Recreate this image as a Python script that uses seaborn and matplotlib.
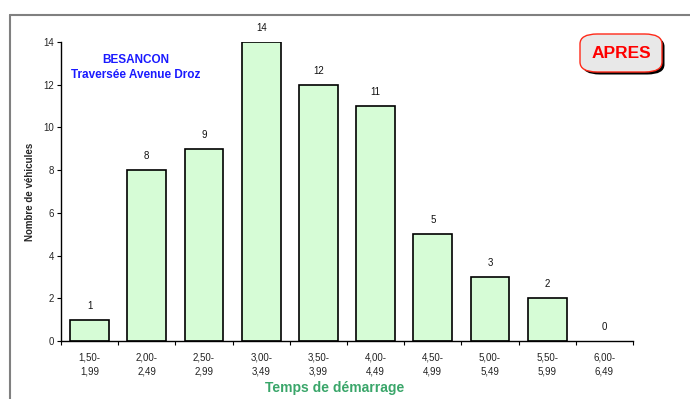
import matplotlib
matplotlib.use("Agg")
import matplotlib.pyplot as plt
from matplotlib.patches import FancyBboxPatch
from matplotlib.lines import Line2D
import seaborn as sns
import pandas as pd

categories = ["1,50-\n1,99", "2,00-\n2,49", "2,50-\n2,99", "3,00-\n3,49", "3,50-\n3,99",
              "4,00-\n4,49", "4,50-\n4,99", "5,00-\n5,49", "5,50-\n5,99", "6,00-\n6,49"]
counts = [1, 8, 9, 14, 12, 11, 5, 3, 2, 0]
y_ticks = [0, 2, 4, 6, 8, 10, 12, 14]

sns.set_theme(style="white")
plt.rcParams["font.family"] = ["Liberation Sans", "DejaVu Sans"]

df = pd.DataFrame({"cat": categories, "n": counts})

fig = plt.figure(figsize=(6.9, 3.99), dpi=100)
ax = fig.add_axes([61 / 690, 1 - 341 / 399, 572 / 690, 299 / 399])

sns.barplot(data=df, x="cat", y="n", ax=ax, color="#d6fcd6", saturation=1,
            width=0.68, edgecolor="black", linewidth=1.2)
# empty classes get no outline
for patch in ax.patches:
    if patch.get_height() == 0:
        patch.set_linewidth(0)

ax.set_xlim(-0.5, len(categories) - 0.5)
ax.set_ylim(0, 14)
ax.set_yticks(y_ticks)
ax.tick_params(axis="y", labelsize=7, length=3, width=0.8, direction="out",
               left=True, pad=2, color="black")
ax.set_xticks(range(len(categories)))
ax.set_xticklabels(categories, fontsize=7, linespacing=1.6, color="#222222")
ax.tick_params(axis="x", which="major", length=0, pad=8)
ax.set_xticks([i - 0.5 for i in range(len(categories) + 1)], minor=True)
ax.tick_params(axis="x", which="minor", length=3, width=0.8, direction="out",
               bottom=True, color="black")

for side in ("top", "right"):
    ax.spines[side].set_visible(False)
for side in ("left", "bottom"):
    ax.spines[side].set_color("black")
    ax.spines[side].set_linewidth(1.0)

for i, v in enumerate(counts):
    ax.annotate(str(v), (i, v), xytext=(0, 6.5), textcoords="offset points",
                ha="center", va="bottom", fontsize=7, color="#111111")

ax.set_ylabel("Nombre de véhicules", fontsize=7, fontweight="bold", labelpad=6)
ax.set_xlabel("")
fig.text(335 / 690, 1 - 388 / 399, "Temps de démarrage", ha="center", va="center",
         fontsize=10, fontweight="bold", color="#3aa66a")

fig.text(136 / 690, 1 - 60 / 399, "BESANCON", ha="center", va="center",
         fontsize=8.5, fontweight="bold", color="#1a1aff")
fig.text(136 / 690, 1 - 75 / 399, "Traversée Avenue Droz", ha="center", va="center",
         fontsize=8.5, fontweight="bold", color="#1a1aff")

# "APRES" badge with drop shadow
bx0, by0, bw, bh = 580, 34, 82, 38
shadow = FancyBboxPatch(((bx0 + 2.5) / 690, 1 - (by0 + bh + 2.5) / 399), bw / 690, bh / 399,
                        boxstyle="round,pad=0,rounding_size=0.025", transform=fig.transFigure,
                        facecolor="black", edgecolor="black", linewidth=0, zorder=5)
badge = FancyBboxPatch((bx0 / 690, 1 - (by0 + bh) / 399), bw / 690, bh / 399,
                       boxstyle="round,pad=0,rounding_size=0.025", transform=fig.transFigure,
                       facecolor="#e8e8e8", edgecolor="#ff2a1a", linewidth=1.0, zorder=6)
fig.patches.extend([shadow, badge])
fig.text((bx0 + bw / 2) / 690, 1 - (by0 + bh / 2) / 399, "APRES", ha="center", va="center",
         fontsize=12.5, fontweight="bold", color="#ff0000", zorder=7)

# outer frame lines
fig.add_artist(Line2D([10 / 690, 1], [1 - 15 / 399, 1 - 15 / 399], transform=fig.transFigure,
                      color="#808080", linewidth=1.5))
fig.add_artist(Line2D([10 / 690, 10 / 690], [0, 1 - 15 / 399], transform=fig.transFigure,
                      color="#808080", linewidth=1.5))

fig.savefig("out.png", dpi=100)
